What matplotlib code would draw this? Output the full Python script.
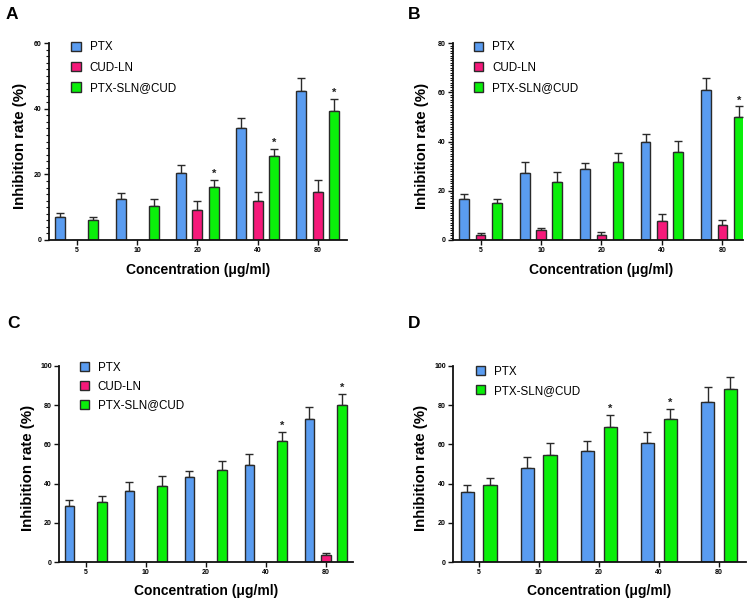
import matplotlib
matplotlib.use("Agg")
import matplotlib.pyplot as plt
import matplotlib.patches as mpatches
from matplotlib.ticker import MultipleLocator
import numpy as np

plt.rcParams['font.family'] = ['Liberation Sans', 'DejaVu Sans']

concentrations = ["5", "10", "20", "40", "80"]
series_names = ["PTX", "CUD-LN", "PTX-SLN@CUD"]

# Panel A
a_ptx = [7.0, 12.4, 20.5, 34.0, 45.5]
a_ptx_err = [1.2, 2.0, 2.4, 3.2, 3.9]
a_cud = [0, 0, 9.1, 11.8, 14.5]
a_cud_err = [0, 0, 2.7, 2.8, 3.9]
a_sln = [6.0, 10.3, 16.2, 25.5, 39.3]
a_sln_err = [1.0, 2.1, 2.2, 2.2, 3.6]
a_star = [False, False, True, True, True]

# Panel B
b_ptx = [16.8, 27.3, 28.9, 39.9, 60.8]
b_ptx_err = [2.1, 4.3, 2.2, 3.3, 5.1]
b_cud = [2.2, 4.1, 1.9, 7.6, 5.9]
b_cud_err = [0.5, 0.9, 1.3, 2.9, 2.1]
b_sln = [14.9, 23.5, 31.8, 35.9, 50.0]
b_sln_err = [1.7, 4.3, 3.6, 4.2, 4.3]
b_star = [False, False, False, False, True]

# Panel C
c_ptx = [28.4, 36.1, 43.4, 49.7, 73.0]
c_ptx_err = [3.4, 4.7, 3.2, 5.2, 6.1]
c_cud = [0, 0, 0, 0, 3.4]
c_cud_err = [0, 0, 0, 0, 1.4]
c_sln = [30.4, 38.9, 46.9, 61.6, 79.9]
c_sln_err = [3.4, 4.8, 4.6, 4.9, 5.8]
c_star = [False, False, False, True, True]

# Panel D
d_ptx = [35.8, 47.7, 56.7, 60.8, 81.8]
d_ptx_err = [3.7, 6.0, 5.1, 5.6, 7.3]
d_sln = [39.4, 54.5, 69.0, 73.1, 88.1]
d_sln_err = [3.4, 6.3, 6.0, 4.9, 6.4]
d_star = [False, False, True, True, False]

colors = {"PTX": "#5a9cf0", "CUD-LN": "#f5197a", "PTX-SLN@CUD": "#0aef0a"}
edge = "#2a2a2a"

fig = plt.figure(figsize=(7.52, 6.0), dpi=100)


def panel(rect, series, errs, names, stars, ymax, minor, offset, width,
          xlim, ylab_xy, xlab_xy, leg_xy, leg_spacing):
    ax = fig.add_axes(rect)
    x = np.arange(len(concentrations))
    n = len(series)
    offs = [(i - (n - 1) / 2) * offset for i in range(n)]
    for vals, err, name, off in zip(series, errs, names, offs):
        ax.bar(x + off, vals, width, color=colors[name], edgecolor=edge,
               linewidth=1.0, zorder=2)
        vals_a = np.array(vals)
        err_a = np.array(err)
        mask = vals_a > 0
        ax.errorbar((x + off)[mask], vals_a[mask],
                    yerr=[np.zeros(mask.sum()), err_a[mask]],
                    fmt='none', ecolor=edge, elinewidth=1.0, capsize=3,
                    capthick=1.0, zorder=1)
    # stars on last series
    last_vals = np.array(series[-1])
    last_err = np.array(errs[-1])
    for i, s in enumerate(stars):
        if s:
            ax.text(x[i] + offs[-1], last_vals[i] + last_err[i] + ymax * 0.005,
                    '*', ha='center', va='bottom', fontsize=8,
                    fontweight='bold', color='#222222')
    ax.set_xlim(*xlim)
    ax.set_ylim(0, ymax)
    ax.set_xticks(x)
    ax.set_xticklabels(concentrations)
    ax.set_yticks(np.arange(0, ymax + 1, 20))
    if minor:
        ax.yaxis.set_minor_locator(MultipleLocator(minor))
    for sp in ['top', 'right']:
        ax.spines[sp].set_visible(False)
    for sp in ['left', 'bottom']:
        ax.spines[sp].set_linewidth(1.3)
        ax.spines[sp].set_color('#111111')
    ax.tick_params(axis='both', which='major', length=3.5, width=1.0,
                   labelsize=5, pad=1.5, color='#111111')
    ax.tick_params(axis='y', which='minor', length=2, width=0.8,
                   color='#111111')
    for lab in ax.get_xticklabels() + ax.get_yticklabels():
        lab.set_fontweight('bold')
    ax.set_ylabel('Inhibition rate (%)', fontsize=10.8, fontweight='bold')
    ax.set_xlabel('Concentration (\u03bcg/ml)', fontsize=10,
                  fontweight='bold')
    ax.yaxis.set_label_coords(*ylab_xy)
    ax.xaxis.set_label_coords(*xlab_xy)
    handles = [mpatches.Patch(facecolor=colors[nm], edgecolor=edge,
                              linewidth=1.0, label=nm) for nm in names]
    ax.legend(handles=handles, loc='upper left', bbox_to_anchor=leg_xy,
              frameon=False, fontsize=8.4, handlelength=0.82,
              handleheight=0.82, handletextpad=0.75, borderpad=0,
              borderaxespad=0, labelspacing=leg_spacing)
    return ax


panel([0.065, 0.60, 0.396, 0.328],
      [a_ptx, a_cud, a_sln], [a_ptx_err, a_cud_err, a_sln_err],
      series_names, a_star, 60, 2, 0.275, 0.165, (-0.465, 4.48),
      (-0.075, 0.477), (0.5, -0.115), (0.075, 1.01), 0.72)

panel([0.602, 0.60, 0.386, 0.328],
      [b_ptx, b_cud, b_sln], [b_ptx_err, b_cud_err, b_sln_err],
      series_names, b_star, 80, 1, 0.27, 0.16, (-0.46, 4.34),
      (-0.08, 0.477), (0.51, -0.115), (0.072, 1.01), 0.72)

panel([0.078, 0.0633, 0.391, 0.327],
      [c_ptx, c_cud, c_sln], [c_ptx_err, c_cud_err, c_sln_err],
      series_names, c_star, 100, None, 0.27, 0.165, (-0.45, 4.45),
      (-0.082, 0.48), (0.5, -0.112), (0.071, 1.02), 0.58)

panel([0.602, 0.0633, 0.390, 0.327],
      [d_ptx, d_sln], [d_ptx_err, d_sln_err],
      ["PTX", "PTX-SLN@CUD"], d_star, 100, None, 0.38, 0.22, (-0.43, 4.45),
      (-0.084, 0.48), (0.5, -0.112), (0.078, 1.0), 0.58)

for lbl, (px, py) in zip("ABCD", [(6, 19), (408, 19), (7, 328), (408, 328)]):
    fig.text(px / 752, 1 - py / 600, lbl, fontsize=12.5, fontweight='bold',
             ha='left', va='baseline')

fig.savefig('out.png', dpi=100)
